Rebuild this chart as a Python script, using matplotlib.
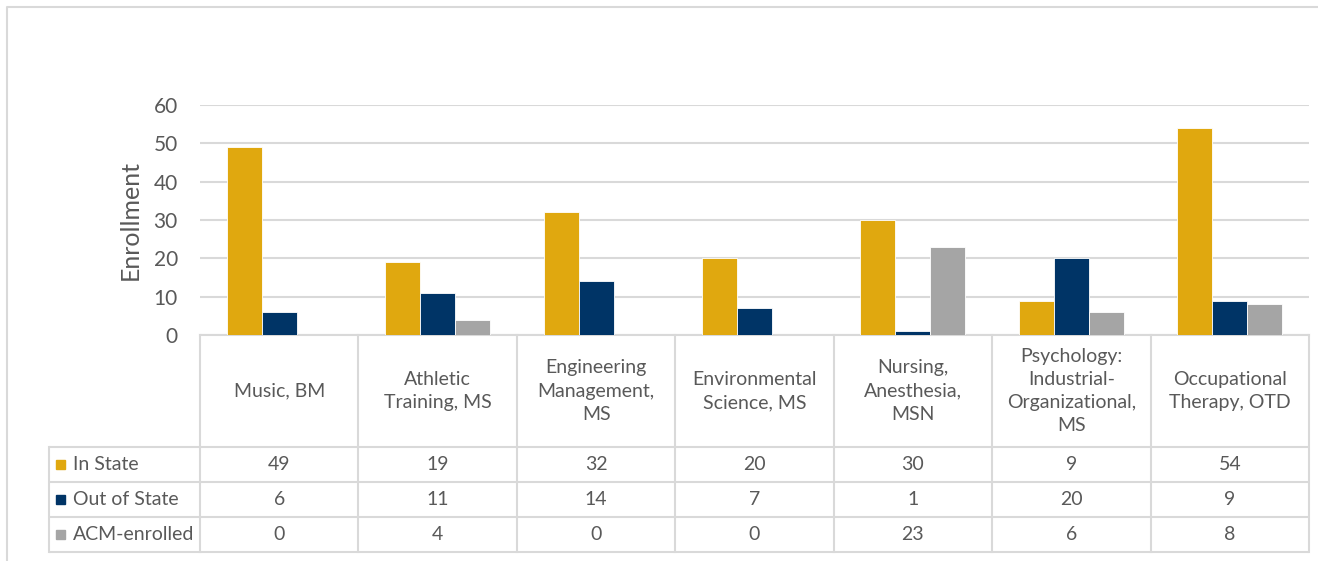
import matplotlib
matplotlib.use('Agg')
import matplotlib.pyplot as plt
import numpy as np

plt.rcParams['font.family'] = ['Lato', 'DejaVu Sans']

# data
categories = ['Music, BM', 'Athletic\nTraining, MS', 'Engineering\nManagement,\nMS',
              'Environmental\nScience, MS', 'Nursing,\nAnesthesia,\nMSN',
              'Psychology:\nIndustrial-\nOrganizational,\nMS', 'Occupational\nTherapy, OTD']
series_names = ['In State', 'Out of State', 'ACM-enrolled']
in_state = [49, 19, 32, 20, 30, 9, 54]
out_state = [6, 11, 14, 7, 1, 20, 9]
acm = [0, 4, 0, 0, 23, 6, 8]
y_ticks = [0, 10, 20, 30, 40, 50, 60]

colors = ['#E0A80F', '#003466', '#A5A5A5']
txt = '#595959'
grid = '#D9D9D9'

W, H = 1318, 561
fig = plt.figure(figsize=(W / 100, H / 100), dpi=100)

def px(x0, y0, x1, y1):
    # pixel box (top-left origin) -> figure fraction
    return [x0 / W, 1 - y1 / H, (x1 - x0) / W, (y1 - y0) / H]

# overlay axes in pixel coords for frame + table
ov = fig.add_axes([0, 0, 1, 1])
ov.set_xlim(0, W)
ov.set_ylim(H, 0)
ov.axis('off')

# outer frame (left/top visible)
ov.plot([7, 7, W + 5], [H + 5, 7, 7], color=grid, lw=1.5, solid_capstyle='butt')

# bar axes
ax_l, ax_r, ax_t, ax_b = 200, 1309, 105, 335
ax = fig.add_axes(px(ax_l, ax_t, ax_r, ax_b))
n = len(categories)
xs = np.arange(n)
bw = 0.221
for i, (vals, c) in enumerate(zip([in_state, out_state, acm], colors)):
    ax.bar(xs + (i - 1) * bw, vals, bw, color=c, edgecolor='white', linewidth=0.6, zorder=3)
ax.set_xlim(-0.5, n - 0.5)
ax.set_ylim(0, 60)
ax.set_yticks(y_ticks)
ax.yaxis.grid(True, color=grid, lw=1.5)
ax.set_axisbelow(True)
for s in ['top', 'right', 'left']:
    ax.spines[s].set_visible(False)
ax.spines['bottom'].set_color(grid)
ax.spines['bottom'].set_linewidth(1.5)
ax.set_xticks([])
ax.tick_params(axis='y', length=0, pad=16, labelsize=15, labelcolor=txt)
ax.patch.set_alpha(0)
fig.text(130 / W, 1 - 220 / H, 'Enrollment', rotation=90, ha='center', va='center',
         fontsize=18, color=txt)

# data table
col_w = (ax_r - ax_l) / n
rows_y = [447, 482, 517, 552]
leg_l = 49
lw_t = 1.5
for y in rows_y:
    ov.plot([leg_l, ax_r], [y, y], color=grid, lw=lw_t, solid_capstyle='butt')
ov.plot([leg_l, leg_l], [rows_y[0], rows_y[-1]], color=grid, lw=lw_t)
for k in range(n + 1):
    x = ax_l + k * col_w
    ov.plot([x, x], [ax_b, rows_y[-1]], color=grid, lw=lw_t)

for k, lab in enumerate(categories):
    ov.text(ax_l + (k + 0.5) * col_w, (ax_b + rows_y[0]) / 2, lab, ha='center', va='center',
            fontsize=14, color=txt, linespacing=1.45)

for r, (name, vals, c) in enumerate(zip(series_names, [in_state, out_state, acm], colors)):
    yc = (rows_y[r] + rows_y[r + 1]) / 2
    ov.add_patch(plt.Rectangle((56, yc - 4.5), 9, 9, color=c))
    ov.text(73, yc, name, ha='left', va='center', fontsize=14, color=txt)
    for k, v in enumerate(vals):
        ov.text(ax_l + (k + 0.5) * col_w, yc, str(v), ha='center', va='center',
                fontsize=14, color=txt)

fig.savefig('out.png', dpi=100)
